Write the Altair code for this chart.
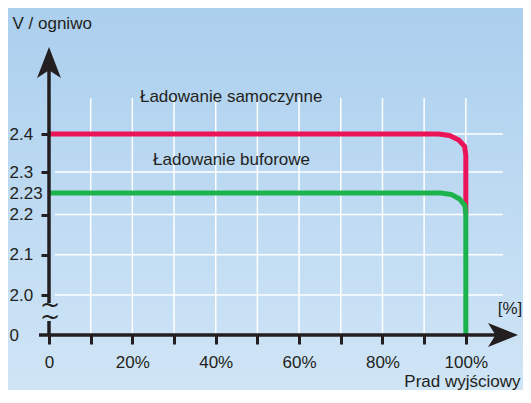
import altair as alt
import pandas as pd

# ---- data ----
red_x = [0, 93.5, 96.1, 98.3, 99.7, 100, 100]
red_y = [2.4, 2.4, 2.396, 2.384, 2.368, 2.344, 2.2]
green_x = [0, 94.0, 96.5, 98.5, 99.8, 100, 100]
green_y = [2.23, 2.23, 2.228, 2.2216, 2.2124, 2.2, 0]

x_ticks = [0, 10, 20, 30, 40, 50, 60, 70, 80, 90, 100]
y_ticks = [0, 2.0, 2.1, 2.2, 2.23, 2.3, 2.4]
h_grid = [2.0, 2.1, 2.2, 2.3, 2.4]
v_grid = [10, 20, 30, 40, 50, 60, 70, 80, 90, 100]

annot_text = ["Ładowanie samoczynne", "Ładowanie buforowe"]
annot_x = [43.7, 43.8]
annot_y = [2.497, 2.332]

FONT = "Liberation Sans"
FS = 17
TXT = "#231f20"
RED = "#ec1458"
GREEN = "#1db34c"

W, H = 471, 295
PAD = {"left": 41, "top": 32, "right": 3, "bottom": 55}

xs = alt.Scale(domain=[0, 113], nice=False, zero=False)
ys = alt.Scale(domain=[0, 2.0, 2.2, 2.23, 2.3, 2.4],
               range=[295, 255, 174.5, 153, 132, 94], nice=False, zero=False)

series = pd.DataFrame(
    {"x": red_x + green_x, "y": red_y + green_y,
     "s": ["Ładowanie samoczynne"] * len(red_x) + ["Ładowanie buforowe"] * len(green_x),
     "o": list(range(len(red_x))) + list(range(len(green_x)))})

bg = alt.Chart(pd.DataFrame({"a": [0]})).mark_rect(
    color=alt.Gradient(gradient="linear", x1=0, x2=0, y1=0, y2=1,
                       stops=[alt.GradientStop(color="#abcfee", offset=0),
                              alt.GradientStop(color="#d0e5f6", offset=1)])
).encode(x=alt.value(-41), x2=alt.value(W + 3), y=alt.value(-32), y2=alt.value(H + 55))

hg = alt.Chart(pd.DataFrame({"y": h_grid})).mark_rule(color="white", strokeWidth=1.5).encode(
    y=alt.Y("y:Q", scale=ys), x=alt.datum(1.4, scale=xs), x2=alt.datum(108.9))
vg = alt.Chart(pd.DataFrame({"x": v_grid})).mark_rule(color="white", strokeWidth=1.5).encode(
    x=alt.X("x:Q", scale=xs), y=alt.datum(2.495, scale=ys), y2=alt.datum(0))

axes = alt.Chart(pd.DataFrame({"x": x_ticks})).mark_point(opacity=0).encode(
    x=alt.X("x:Q", scale=xs, axis=alt.Axis(
        values=x_ticks, domain=False, grid=False, tickSize=9, tickWidth=3, tickColor=TXT,
        labelPadding=10, labelFontSize=FS, labelFont=FONT, labelColor=TXT, zindex=2,
        labelFlush=False, labelOverlap=False,
        labelExpr="datum.value == 0 ? '0' : (datum.value % 20 == 0 ? datum.value + '%' : '')",
        title="Prad wyjściowy", titleFont=FONT, titleFontSize=FS, titleFontWeight="normal",
        titleColor=TXT, titleAlign="right", titleAnchor="end", titleX=W, titleY=51,
        titleBaseline="alphabetic")),
    y=alt.Y("y:Q", scale=ys, axis=alt.Axis(
        values=y_ticks, domain=False, grid=False, tickSize=8, tickWidth=3, tickColor=TXT,
        tickOpacity={"condition": {"test": "datum.value == 0 || datum.value == 2.23", "value": 0}, "value": 1},
        labelAlign="left", labelPadding=32, labelBaseline="middle", labelFontSize=FS,
        labelFont=FONT, labelColor=TXT, zindex=2, labelFlush=False, labelOverlap=False,
        labelExpr="datum.value == 0 ? '0' : (datum.value == 2.23 ? '2.23' : format(datum.value, '.1f'))",
        title="V / ogniwo", titleFont=FONT, titleFontSize=FS, titleFontWeight="normal",
        titleColor=TXT, titleAngle=0, titleAlign="left", titleBaseline="middle",
        titleX=-37, titleY=-17)),
).transform_calculate(y="2.0")

lines = alt.Chart(series).mark_line(strokeWidth=5, strokeJoin="round", strokeCap="butt").encode(
    x=alt.X("x:Q", scale=xs), y=alt.Y("y:Q", scale=ys), order="o:Q",
    color=alt.Color("s:N", scale=alt.Scale(domain=["Ładowanie samoczynne", "Ładowanie buforowe"],
                                           range=[RED, GREEN]), legend=None))

ann = alt.Chart(pd.DataFrame({"t": annot_text, "x": annot_x, "y": annot_y})).mark_text(
    font=FONT, fontSize=FS, color=TXT, align="center", baseline="middle").encode(
    x=alt.X("x:Q", scale=xs), y=alt.Y("y:Q", scale=ys), text="t:N")

# axis lines
xaxis = alt.Chart(pd.DataFrame({"a": [0]})).mark_rule(color=TXT, strokeWidth=3.5).encode(
    y=alt.datum(0, scale=ys), x=alt.value(-10), x2=alt.value(450))
yaxis_lo = alt.Chart(pd.DataFrame({"a": [0]})).mark_rule(color=TXT, strokeWidth=3.5).encode(
    x=alt.value(0), y=alt.datum(0, scale=ys), y2=alt.datum(0.7))
yaxis_hi = alt.Chart(pd.DataFrame({"a": [0]})).mark_rule(color=TXT, strokeWidth=3.5).encode(
    x=alt.value(0), y=alt.datum(1.6, scale=ys), y2=alt.value(30))
arrow_up = alt.Chart(pd.DataFrame({"a": [0]})).mark_point(
    shape="M0,-1L0.77,1L0,0.5L-0.77,1Z", size=961, filled=True, color=TXT, opacity=1).encode(
    x=alt.value(0), y=alt.value(22.5))
arrow_right = alt.Chart(pd.DataFrame({"a": [0]})).mark_point(
    shape="M1,0L-1,0.8L-0.5,0L-1,-0.8Z", size=900, filled=True, color=TXT, opacity=1).encode(
    x=alt.value(454), y=alt.datum(0, scale=ys))
squig = alt.Chart(pd.DataFrame({"t": ["~\n~"]})).mark_text(
    font="DejaVu Sans", fontSize=24, color=TXT, align="center", baseline="middle",
    lineBreak="\n", lineHeight=12).encode(
    x=alt.value(1), y=alt.value(266), text="t:N")
pct = alt.Chart(pd.DataFrame({"t": ["[%]"]})).mark_text(
    font=FONT, fontSize=FS, color=TXT, align="center", baseline="middle").encode(
    x=alt.value(461), y=alt.value(269), text="t:N")

chart = alt.layer(bg, hg, vg, axes, lines, ann, xaxis, yaxis_lo, yaxis_hi,
                  arrow_up, arrow_right, squig, pct).properties(
    width=W, height=H, padding=PAD,
    autosize=alt.AutoSizeParams(type="none")
).configure_view(stroke=None).configure(background="#d0e5f6")

chart.save("out.html", embed_options={"renderer": "svg", "actions": False})
